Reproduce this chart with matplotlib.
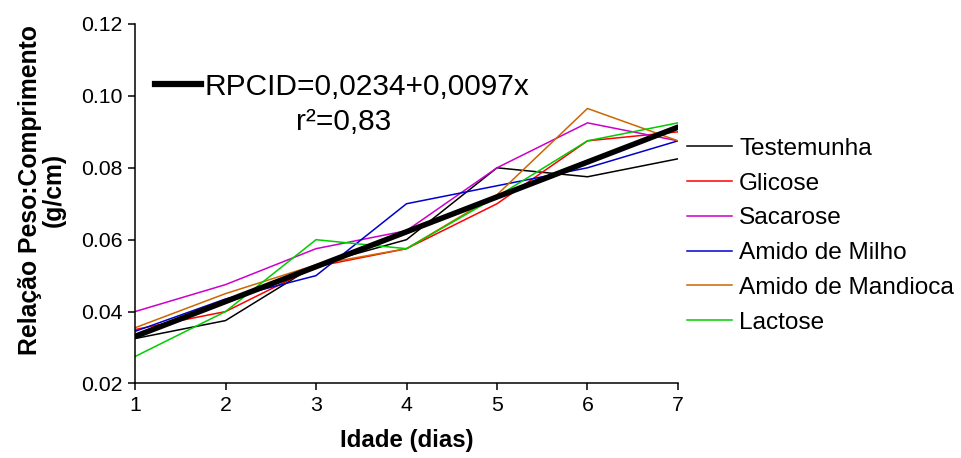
import numpy as np
import matplotlib
matplotlib.use("Agg")
import matplotlib.pyplot as plt
from matplotlib.lines import Line2D

plt.rcParams['font.family'] = ['Liberation Sans', 'DejaVu Sans']

# dias
idade = [1, 2, 3, 4, 5, 6, 7]

# relação peso:comprimento (g/cm) por tratamento
testemunha = [0.0325, 0.0375, 0.053, 0.060, 0.080, 0.0775, 0.0825]
glicose = [0.035, 0.040, 0.0525, 0.0575, 0.070, 0.0875, 0.090]
sacarose = [0.040, 0.0475, 0.0575, 0.0625, 0.080, 0.0925, 0.0875]
amido_milho = [0.0345, 0.0435, 0.050, 0.070, 0.075, 0.080, 0.0875]
amido_mandioca = [0.0355, 0.045, 0.053, 0.0575, 0.0725, 0.0965, 0.0875]
lactose = [0.0275, 0.040, 0.060, 0.0575, 0.072, 0.0875, 0.0925]

nomes = ['Testemunha', 'Glicose', 'Sacarose', 'Amido de Milho',
         'Amido de Mandioca', 'Lactose']
cores = ['#000000', '#ff0000', '#cc00cc', '#0000cc', '#cc6600', '#00cc00']

# regressao RPCID = a + b*x
reg_a = 0.0234
reg_b = 0.0097
reg_r2 = '0,83'

fig = plt.figure(figsize=(9.61, 4.58), dpi=100)
ax = fig.add_axes([0.1405, 0.1627, 0.5650, 0.7849])

series = [testemunha, glicose, sacarose, amido_milho, amido_mandioca, lactose]
handles = []
for s, nome, c in zip(series, nomes, cores):
    h, = ax.plot(idade, s, color=c, lw=1.1, label=nome)
    handles.append(h)

x = np.array(idade)
ax.plot(x, reg_a + reg_b * x, color='black', lw=4.0, solid_capstyle='round', zorder=5)

ax.set_xlim(1, 7)
ax.set_ylim(0.02, 0.12)
ax.set_xticks(idade)
ax.set_yticks([0.02, 0.04, 0.06, 0.08, 0.10, 0.12])
ax.set_yticklabels(['0.02', '0.04', '0.06', '0.08', '0.10', '0.12'])
for sp in ['top', 'right']:
    ax.spines[sp].set_visible(False)
for sp in ['left', 'bottom']:
    ax.spines[sp].set_linewidth(1.1)
ax.tick_params(direction='out', length=5, width=1.1, labelsize=15.3, pad=4)

ax.set_xlabel('Idade (dias)', fontsize=17.3, fontweight='bold', labelpad=10)
ax.set_ylabel('Relação Peso:Comprimento\n(g/cm)', fontsize=17.8,
              fontweight='bold', linespacing=1.0)
ax.yaxis.set_label_coords(-0.128, 0.538)

# equação
reg_leg = ax.legend([Line2D([0], [0], color='black', lw=4.5)],
                    ['RPCID=0,0234+0,0097x'],
                    loc='center left', bbox_to_anchor=(0.037, 0.826),
                    frameon=False, fontsize=21.5, handlelength=1.55,
                    handletextpad=0.12, borderpad=0, borderaxespad=0)
ax.add_artist(reg_leg)
ax.text(0.385, 0.728, 'r²=' + reg_r2, transform=ax.transAxes,
        fontsize=21.5, ha='center', va='center')

ax.legend(handles=handles, loc='center left', bbox_to_anchor=(1.016, 0.411),
          frameon=False, fontsize=17.6, handlelength=1.85, handletextpad=0.3,
          labelspacing=0.52, borderpad=0, borderaxespad=0)

fig.savefig('out.png', dpi=100)
